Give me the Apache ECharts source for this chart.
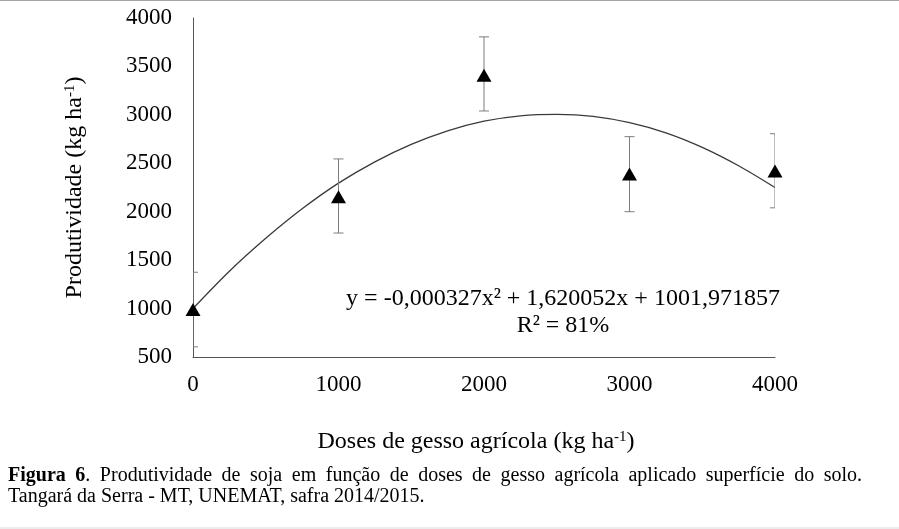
<!DOCTYPE html>
<html>
<head>
<meta charset="utf-8">
<script src="https://cdn.jsdelivr.net/npm/echarts@6/dist/echarts.min.js"></script>
<style>
  html, body { margin: 0; padding: 0; background: #fff; }
  #wrap { position: relative; width: 899px; height: 529px; overflow: hidden; }
  #chart { position: absolute; left: 0; top: 0; width: 899px; height: 529px; }
  #topline { position: absolute; left: 0; top: 0; width: 899px; height: 1px; background: #a4a4a4; }
  #botline { position: absolute; left: 0; bottom: 0; width: 899px; height: 2px; background: #ececec; }
  .cap { position: absolute; left: 8px; width: 854px; font-family: "Liberation Serif", serif; font-size: 20px; line-height: 21px; color: #000; white-space: nowrap; }
  #cap1 { top: 464px; text-align: justify; text-align-last: justify; white-space: normal; }
  #cap2 { top: 485px; }
</style>
</head>
<body>
<div id="wrap">
  <div id="chart"></div>
  <div id="topline"></div>
  <div id="botline"></div>
  <div class="cap" id="cap1"><b>Figura 6</b>. Produtividade de soja em função de doses de gesso agrícola aplicado superfície do solo.</div>
  <div class="cap" id="cap2">Tangará da Serra - MT, UNEMAT, safra 2014/2015.</div>
</div>
<script>
// doses de gesso (kg/ha) e produtividade media
var doses = [0, 1000, 2000, 3000, 4000];
var produtividade = [990, 2155, 3410, 2390, 2420];
var erroMin = [605, 1780, 3040, 2000, 2040];
var erroMax = [1375, 2545, 3805, 2775, 2805];

// linha de tendencia
var curvaX = [0, 250, 500, 750, 1000, 1250, 1500, 1750, 2000, 2250, 2500, 2750, 3000, 3250, 3500, 3750, 4000];
var curvaY = [1000, 1385, 1725, 2030, 2295, 2515, 2695, 2835, 2935, 2990, 3005, 2985, 2920, 2815, 2665, 2475, 2250];

var eixoX = { min: 0, max: 4000, passo: 1000 };
var eixoY = { min: 500, max: 4000, passo: 500 };

var fonte = 'Liberation Serif';

var pontos = doses.map(function (d, i) { return [d, produtividade[i]]; });
var barras = doses.map(function (d, i) { return [d, erroMin[i], erroMax[i]]; });
var curva = curvaX.map(function (d, i) { return [d, curvaY[i]]; });

var chart = echarts.init(document.getElementById('chart'));

function desenhaErro(params, api) {
    var x = api.value(0);
    var lo = api.coord([x, api.value(1)]);
    var hi = api.coord([x, api.value(2)]);
    var w = 5;
    var st = { stroke: '#7d7d7d', lineWidth: 1 };
    return {
        type: 'group',
        children: [
            { type: 'line', shape: { x1: hi[0], y1: hi[1], x2: lo[0], y2: lo[1] }, style: st },
            { type: 'line', shape: { x1: hi[0] - w, y1: hi[1], x2: hi[0] + w, y2: hi[1] }, style: st },
            { type: 'line', shape: { x1: lo[0] - w, y1: lo[1], x2: lo[0] + w, y2: lo[1] }, style: st }
        ]
    };
}

function semMilhar(v) { return String(v); }

var option = {
    backgroundColor: '#fff',
    animation: false,
    grid: { left: 193, right: 124, top: 18, bottom: 172 },
    xAxis: {
        type: 'value',
        min: eixoX.min,
        max: eixoX.max,
        interval: eixoX.passo,
        name: 'Doses de gesso agrícola (kg ha{sup|-1})',
        nameLocation: 'middle',
        nameGap: 73,
        nameTextStyle: {
            fontFamily: fonte, fontSize: 24, color: '#000', padding: [0, 16, 0, 0],
            rich: { sup: { fontFamily: fonte, fontSize: 15, color: '#000', verticalAlign: 'top' } }
        },
        axisLine: { lineStyle: { color: '#555', width: 1 } },
        axisTick: { show: false },
        splitLine: { show: false },
        axisLabel: { fontFamily: fonte, fontSize: 23, color: '#000', margin: 16, formatter: semMilhar }
    },
    yAxis: {
        type: 'value',
        min: eixoY.min,
        max: eixoY.max,
        interval: eixoY.passo,
        name: 'Produtividade (kg ha{sup|-1})',
        nameLocation: 'middle',
        nameRotate: 90,
        nameGap: 106,
        nameTextStyle: {
            fontFamily: fonte, fontSize: 24, color: '#000',
            rich: { sup: { fontFamily: fonte, fontSize: 15, color: '#000', verticalAlign: 'top' } }
        },
        axisLine: { show: true, lineStyle: { color: '#555', width: 1 } },
        axisTick: { show: false },
        splitLine: { show: false },
        axisLabel: { fontFamily: fonte, fontSize: 23, color: '#000', margin: 21, formatter: semMilhar }
    },
    graphic: [
        {
            type: 'text',
            x: 563,
            y: 285,
            style: {
                text: 'y = -0,000327x² + 1,620052x + 1001,971857\nR² = 81%',
                font: '24px "Liberation Serif"',
                fill: '#000',
                align: 'center',
                verticalAlign: 'top',
                lineHeight: 27
            }
        }
    ],
    series: [
        {
            name: 'tendencia',
            type: 'line',
            data: curva,
            smooth: 0.3,
            symbol: 'none',
            lineStyle: { color: '#3a3a3a', width: 1.3 },
            z: 2
        },
        {
            name: 'erro',
            type: 'custom',
            data: barras,
            renderItem: desenhaErro,
            clip: true,
            z: 3
        },
        {
            name: 'produtividade',
            type: 'scatter',
            data: pontos,
            symbol: 'triangle',
            symbolSize: [15, 13],
            itemStyle: { color: '#000', opacity: 1 },
            z: 4
        }
    ]
};
chart.setOption(option);
</script>
</body>
</html>
